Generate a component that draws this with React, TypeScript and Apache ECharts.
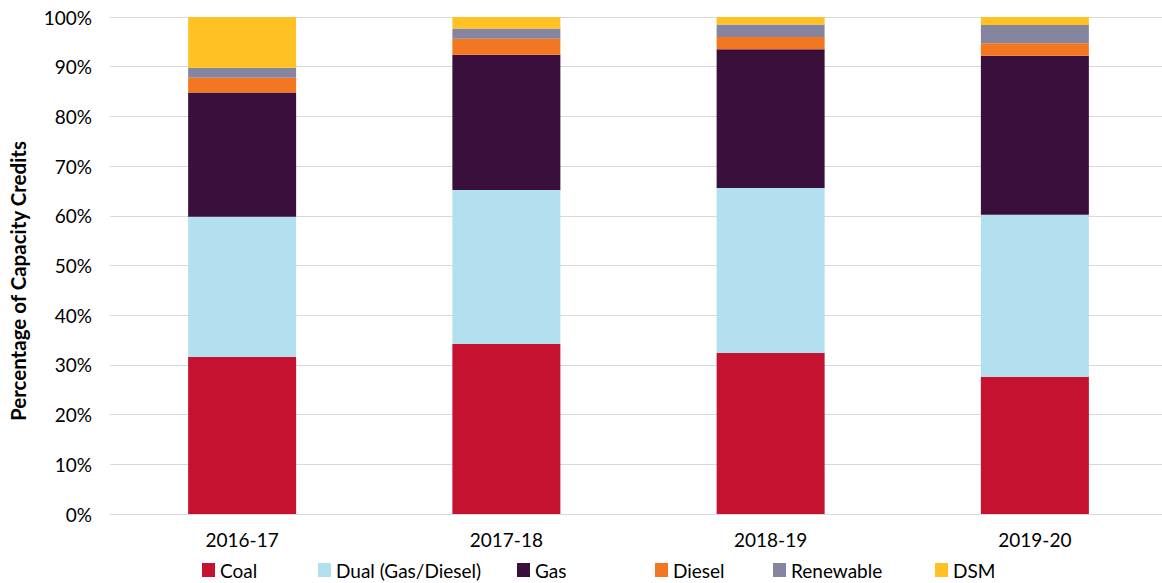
import React, { useEffect, useRef } from "react";
import * as echarts from "echarts";

const categories = ["2016-17", "2017-18", "2018-19", "2019-20"];
const coal = [31.6, 34.2, 32.4, 27.6];
const dual = [28.2, 31.0, 33.2, 32.6];
const gas = [25.0, 27.2, 27.9, 32.0];
const diesel = [3.0, 3.2, 2.5, 2.5];
const renewable = [2.0, 2.1, 2.5, 3.7];
const dsm = [10.2, 2.3, 1.5, 1.6];

const seriesNames = ["Coal", "Dual (Gas/Diesel)", "Gas", "Diesel", "Renewable", "DSM"];
const seriesData = [coal, dual, gas, diesel, renewable, dsm];
const colors = ["#C41230", "#B3E0EE", "#3A0F3C", "#F37721", "#8585A0", "#FFC222"];
const legendLeft = [202, 318, 517, 655, 773, 935];
const yAxisTitle = "Percentage of Capacity Credits";

const FONT = "Lato, 'Open Sans', sans-serif";

export default function App() {
  const ref = useRef<HTMLDivElement>(null);
  useEffect(() => {
    const chart = echarts.init(ref.current!, null, { renderer: "svg" });
    chart.setOption({
      animation: false,
      grid: { left: 110, width: 1057, top: 17, height: 497, outerBoundsMode: "none", containLabel: false },
      legend: seriesNames.map((n, i) => ({
        top: 559,
        left: legendLeft[i],
        padding: 0,
        itemWidth: 13,
        itemHeight: 14,
        itemGap: 0,
        icon: "rect",
        textStyle: { fontFamily: FONT, fontSize: 19, lineHeight: 22, color: "#000" },
        data: [n],
      })),
      graphic: [
        {
          type: "text",
          x: 18,
          y: 281,
          rotation: Math.PI / 2,
          style: {
            text: yAxisTitle,
            fontFamily: FONT,
            fontSize: 20.5,
            fontWeight: "bold",
            fill: "#000",
            align: "center",
            verticalAlign: "middle",
          },
        },
      ],
      xAxis: {
        type: "category",
        data: categories,
        axisLine: { lineStyle: { color: "#D9D9D9" } },
        axisTick: { show: false },
        axisLabel: { fontFamily: FONT, fontSize: 19, color: "#000", margin: 16 },
      },
      yAxis: {
        type: "value",
        min: 0,
        max: 100,
        interval: 10,
        axisLine: { show: false },
        axisTick: { show: false },
        splitLine: { lineStyle: { color: "#D9D9D9", width: 1 } },
        axisLabel: { fontFamily: FONT, fontSize: 19, color: "#000", formatter: "{value}%", margin: 18 },
      },
      series: seriesNames.map((n, i) => ({
        name: n,
        type: "bar",
        stack: "total",
        barWidth: 108,
        data: seriesData[i],
        itemStyle: { color: colors[i] },
      })),
    });
    return () => chart.dispose();
  }, []);
  return <div ref={ref} style={{ width: 1162, height: 583, position: "absolute", left: 0, top: 0 }} />;
}
